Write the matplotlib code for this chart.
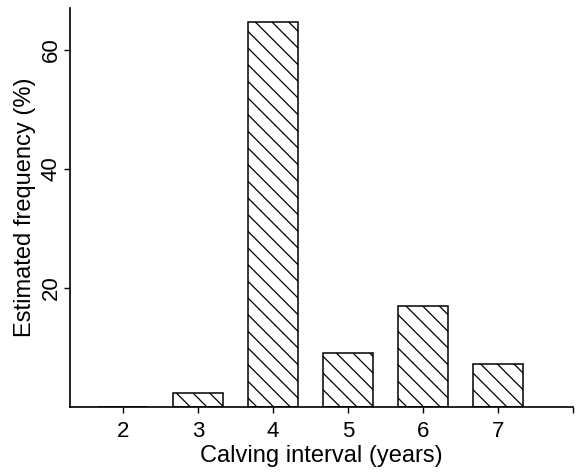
import matplotlib
matplotlib.use("Agg")
import matplotlib.pyplot as plt

# calving interval (years) and estimated frequency (%)
intervals = [2, 3, 4, 5, 6, 7]
freq = [0.0, 2.4, 64.7, 9.0, 17.0, 7.2]
yticks = [20, 40, 60]

plt.rcParams['font.family'] = ['Liberation Sans', 'DejaVu Sans']
plt.rcParams['hatch.linewidth'] = 0.9

fig = plt.figure(figsize=(5.78, 4.72), dpi=100)
ax = fig.add_axes([70/578, 65/472, 503/578, 399/472])

ax.bar(intervals, freq, width=0.667, color='white', edgecolor='black',
       hatch='\\\\', linewidth=1.1)

ax.set_xlim(1.293, 8.0)
ax.set_ylim(0, 67)
ax.set_xticks(intervals + [8])
ax.set_xticklabels([str(i) for i in intervals] + [''])
ax.set_yticks(yticks)
ax.set_yticklabels([str(v) for v in yticks], rotation=90, va='center')

for s in ['top', 'right']:
    ax.spines[s].set_visible(False)
ax.spines['left'].set_linewidth(1.2)
ax.spines['bottom'].set_linewidth(1.2)
ax.tick_params(axis='both', direction='out', length=4, width=1, labelsize=16)
ax.tick_params(axis='x', pad=6)
ax.tick_params(axis='y', pad=2)

ax.set_xlabel('Calving interval (years)', fontsize=17, labelpad=2)
ax.set_ylabel('Estimated frequency (%)', fontsize=17, labelpad=3)

fig.savefig('out.png', dpi=100)
